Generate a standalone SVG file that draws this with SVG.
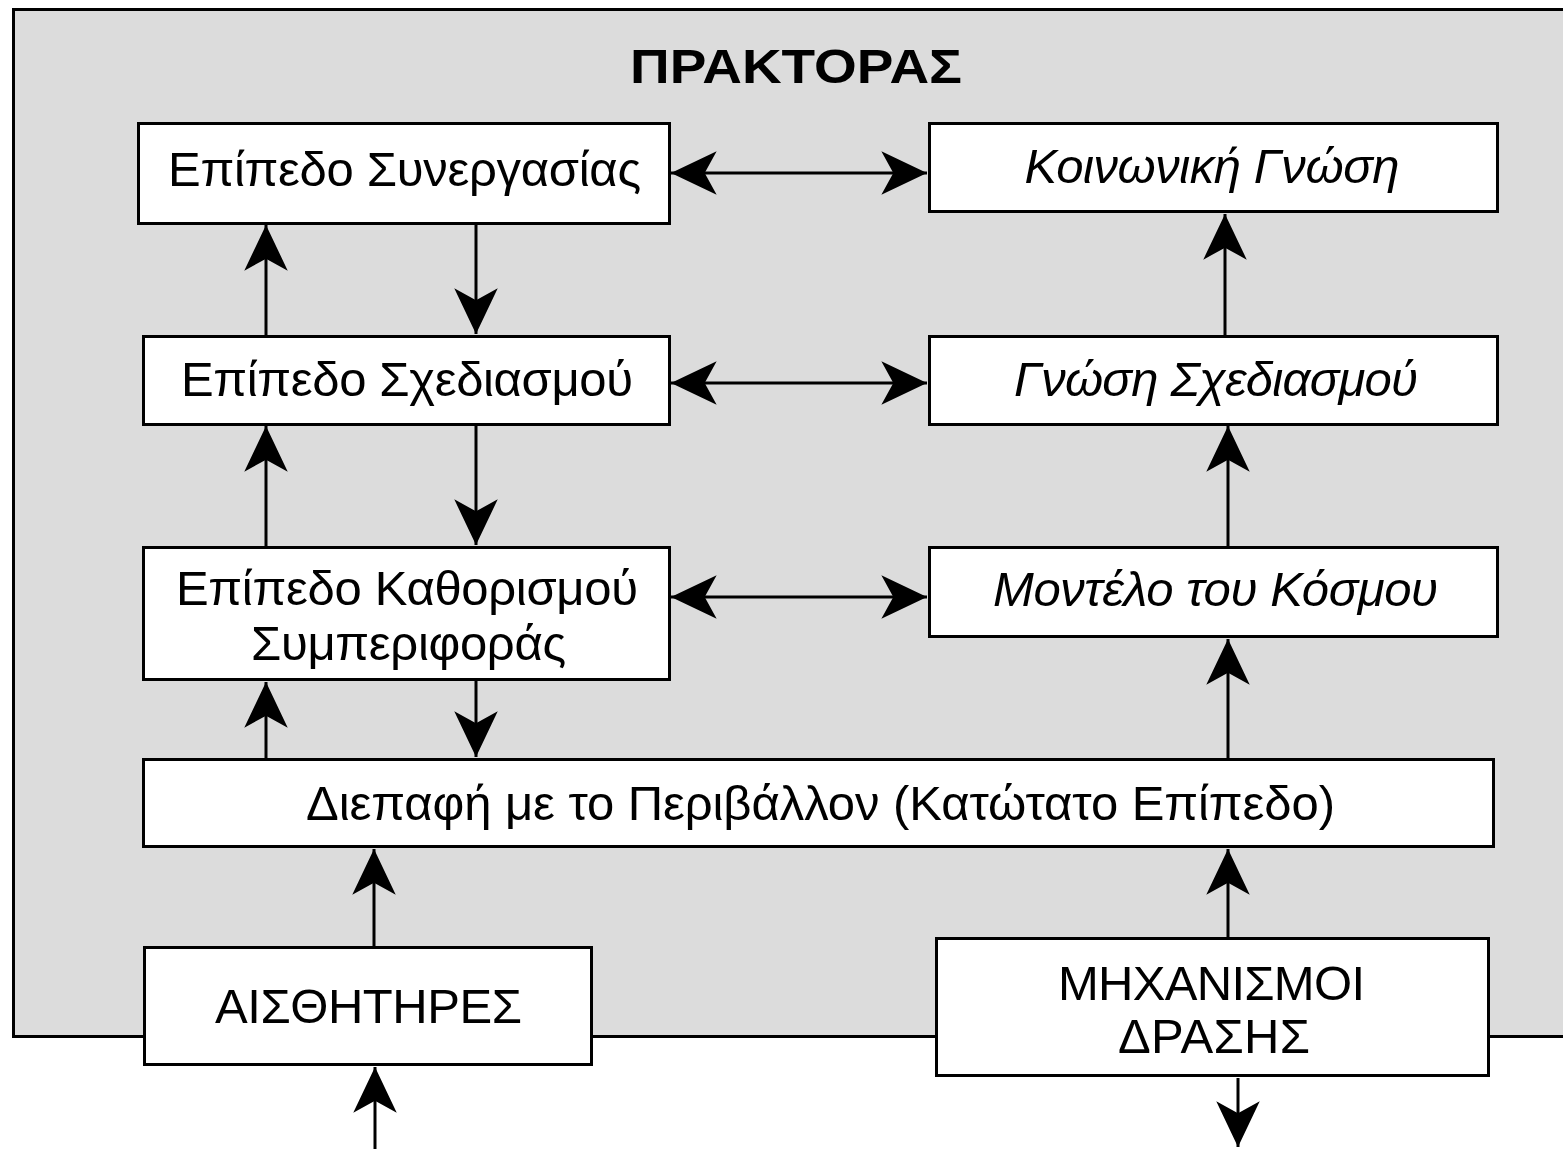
<svg xmlns="http://www.w3.org/2000/svg" width="1563" height="1149" viewBox="0 0 1563 1149">
<style>
.box{fill:#fff;stroke:#000;stroke-width:3}
.t{font-family:"Liberation Sans",Arial,sans-serif;font-size:49px;fill:#000;text-anchor:middle}
.i{font-style:italic}
.c{stroke:#000;stroke-width:3;fill:none}
</style>
<defs>
<marker id="ah" markerUnits="userSpaceOnUse" markerWidth="50" markerHeight="50" viewBox="-44 -22 46 44" refX="0" refY="0" orient="auto-start-reverse">
<path d="M0,0 L-42,-20 L-31,0 L-42,20 Z" fill="#000"/>
</marker>
</defs>
<rect width="1563" height="1149" fill="#fff"/>
<g id="agent">
<path d="M1563,9.5 H13.5 V1036.5 H1563" fill="#dcdcdc" stroke="#000" stroke-width="3"/>
<text class="t" x="796" y="83" font-weight="bold" font-size="56" textLength="332" lengthAdjust="spacingAndGlyphs">ΠΡΑΚΤΟΡΑΣ</text>
</g>
<g id="connectors">
<line class="c" x1="266" y1="336" x2="266" y2="225" marker-end="url(#ah)"/>
<line class="c" x1="476" y1="223" x2="476" y2="334" marker-end="url(#ah)"/>
<line class="c" x1="266" y1="547" x2="266" y2="426" marker-end="url(#ah)"/>
<line class="c" x1="476" y1="424" x2="476" y2="545" marker-end="url(#ah)"/>
<line class="c" x1="266" y1="759" x2="266" y2="682" marker-end="url(#ah)"/>
<line class="c" x1="476" y1="680" x2="476" y2="757" marker-end="url(#ah)"/>
<line class="c" x1="374" y1="947" x2="374" y2="849" marker-end="url(#ah)"/>
<line class="c" x1="1228" y1="938" x2="1228" y2="849" marker-end="url(#ah)"/>
<line class="c" x1="1228" y1="759" x2="1228" y2="639" marker-end="url(#ah)"/>
<line class="c" x1="1228" y1="547" x2="1228" y2="426" marker-end="url(#ah)"/>
<line class="c" x1="1225" y1="336" x2="1225" y2="214" marker-end="url(#ah)"/>
<line class="c" x1="671" y1="173" x2="927" y2="173" marker-start="url(#ah)" marker-end="url(#ah)"/>
<line class="c" x1="671" y1="383" x2="927" y2="383" marker-start="url(#ah)" marker-end="url(#ah)"/>
<line class="c" x1="671" y1="597" x2="927" y2="597" marker-start="url(#ah)" marker-end="url(#ah)"/>
<line class="c" x1="375" y1="1149" x2="375" y2="1067" marker-end="url(#ah)"/>
<line class="c" x1="1238" y1="1078" x2="1238" y2="1147" marker-end="url(#ah)"/>
</g>
<g id="coop">
<rect class="box" x="138.5" y="123.5" width="531" height="100"/>
<text class="t" x="404.5" y="186" textLength="473">Επίπεδο Συνεργασίας</text>
</g>
<g id="social">
<rect class="box" x="929.5" y="123.5" width="568" height="88"/>
<text class="t i" x="1212" y="183" textLength="375">Κοινωνική Γνώση</text>
</g>
<g id="plan">
<rect class="box" x="143.5" y="336.5" width="526" height="88"/>
<text class="t" x="407" y="396" textLength="452">Επίπεδο Σχεδιασμού</text>
</g>
<g id="planknow">
<rect class="box" x="929.5" y="336.5" width="568" height="88"/>
<text class="t i" x="1216" y="396" textLength="404">Γνώση Σχεδιασμού</text>
</g>
<g id="behav">
<rect class="box" x="143.5" y="547.5" width="526" height="132"/>
<text class="t" x="407" y="605" textLength="462">Επίπεδο Καθορισμού</text>
<text class="t" x="408.5" y="660" textLength="315">Συμπεριφοράς</text>
</g>
<g id="world">
<rect class="box" x="929.5" y="547.5" width="568" height="89"/>
<text class="t i" x="1215.5" y="606" textLength="445">Μοντέλο του Κόσμου</text>
</g>
<g id="iface">
<rect class="box" x="143.5" y="759.5" width="1350" height="87"/>
<text class="t" x="820.5" y="820" textLength="1029">Διεπαφή με το Περιβάλλον (Κατώτατο Επίπεδο)</text>
</g>
<g id="sensors">
<rect class="box" x="144.5" y="947.5" width="447" height="117"/>
<text class="t" x="368.5" y="1023" textLength="307">ΑΙΣΘΗΤΗΡΕΣ</text>
</g>
<g id="actuators">
<rect class="box" x="936.5" y="938.5" width="552" height="137"/>
<text class="t" x="1211.5" y="1000" textLength="307">ΜΗΧΑΝΙΣΜΟΙ</text>
<text class="t" x="1214" y="1053" textLength="192">ΔΡΑΣΗΣ</text>
</g>
</svg>
